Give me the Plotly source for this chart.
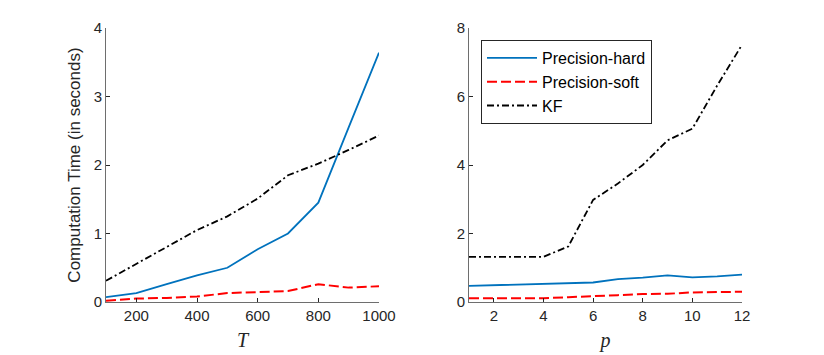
import plotly.graph_objects as go

# Left panel: varying T
T_vals = [100, 200, 300, 400, 500, 600, 700, 800, 900, 1000]
hard_T = [0.07, 0.13, 0.26, 0.39, 0.50, 0.77, 1.00, 1.45, 2.55, 3.64]
soft_T = [0.02, 0.05, 0.06, 0.08, 0.13, 0.14, 0.16, 0.26, 0.21, 0.23]
kf_T = [0.31, 0.56, 0.80, 1.05, 1.25, 1.51, 1.85, 2.02, 2.22, 2.43]

# Right panel: varying p
p_vals = [1, 2, 3, 4, 5, 6, 7, 8, 9, 10, 11, 12]
hard_p = [0.47, 0.49, 0.51, 0.53, 0.55, 0.57, 0.67, 0.71, 0.78, 0.72, 0.75, 0.80]
soft_p = [0.11, 0.11, 0.11, 0.11, 0.14, 0.18, 0.20, 0.23, 0.24, 0.28, 0.29, 0.30]
kf_p = [1.32, 1.32, 1.32, 1.32, 1.62, 2.98, 3.46, 4.00, 4.72, 5.06, 6.32, 7.51]

series_names = ["Precision-hard", "Precision-soft", "KF"]
colors = ["#0072BD", "#FF0000", "#000000"]
dashes = ["solid", "10px,4px", "7px,3px,2px,3px"]
widths = [1.8, 2.0, 1.8]

fig = go.Figure()
for i, (name, ys) in enumerate(zip(series_names, [hard_T, soft_T, kf_T])):
    fig.add_trace(go.Scatter(x=T_vals, y=ys, mode="lines", name=name,
                             line=dict(color=colors[i], width=widths[i], dash=dashes[i]),
                             xaxis="x", yaxis="y", showlegend=False))
for i, (name, ys) in enumerate(zip(series_names, [hard_p, soft_p, kf_p])):
    fig.add_trace(go.Scatter(x=p_vals, y=ys, mode="lines", name=name,
                             line=dict(color=colors[i], width=widths[i], dash=dashes[i]),
                             xaxis="x2", yaxis="y2", showlegend=True))

# page has an 8px body margin, so the figure is 816x347 placed at (8, 8)
W, H, OFF = 816, 347, 8

def xd(a, b):
    return [(a - OFF) / W, (b - OFF) / W]

def yd(top, bottom):
    return [(H - (bottom - OFF)) / H, (H - (top - OFF)) / H]

axis_color = "#6e6e6e"
tickfont = dict(family="Liberation Sans, Arial", size=15, color="#262626")
common = dict(showline=True, linecolor=axis_color, linewidth=1, ticks="inside",
              ticklen=4, tickcolor="#262626", showgrid=False, zeroline=False,
              tickfont=tickfont, mirror=False, automargin=False)

fig.update_layout(
    width=W, height=H,
    margin=dict(l=0, r=0, t=0, b=0, autoexpand=False),
    paper_bgcolor="white", plot_bgcolor="white",
    xaxis=dict(domain=xd(106, 379), range=[100, 1000],
               tickvals=[200, 400, 600, 800, 1000], anchor="y",
               title=dict(text="<i>T</i>", font=dict(family="Liberation Serif", size=20, color="#262626"), standoff=9),
               **common),
    yaxis=dict(domain=yd(28, 302), range=[0, 4], tickvals=[0, 1, 2, 3, 4], anchor="x",
               title=dict(text="Computation Time (in seconds)", font=dict(family="Liberation Sans, Arial", size=17, color="#262626"), standoff=8),
               **common),
    xaxis2=dict(domain=xd(469, 742), range=[1, 12],
                tickvals=[2, 4, 6, 8, 10, 12], anchor="y2",
                title=dict(text="<i>p</i>", font=dict(family="Liberation Serif", size=20, color="#262626"), standoff=9),
                **common),
    yaxis2=dict(domain=yd(28, 302), range=[0, 8], tickvals=[0, 2, 4, 6, 8], anchor="x2",
                **common),
    legend=dict(x=(481 - OFF) / W, y=1 - (40 - OFF) / H, xanchor="left", yanchor="top",
                bgcolor="white", bordercolor="#262626", borderwidth=1,
                font=dict(family="Liberation Sans, Arial", size=16, color="#000000"),
                itemwidth=50, tracegroupgap=0),
)

fig.write_html("out.html")
